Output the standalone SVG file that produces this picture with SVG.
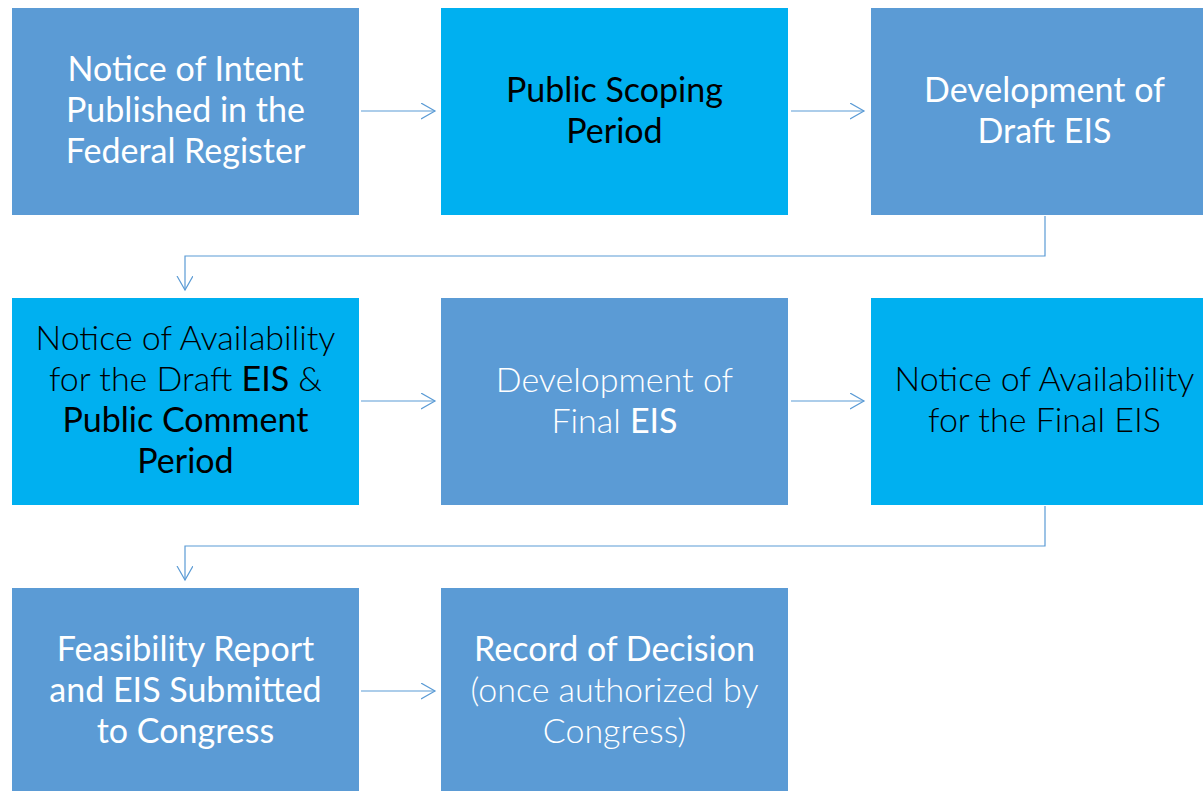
<svg xmlns="http://www.w3.org/2000/svg" width="1203" height="791" viewBox="0 0 1203 791">
<style>
.b1{fill:#5B9BD5}
.b2{fill:#00B0F0}
text{font-family:Lato,"Open Sans","Liberation Sans",sans-serif;font-size:34px;text-anchor:middle}
.w{fill:#FFFFFF}
.k{fill:#000000}
.l{font-weight:300}
.r{font-weight:400}
.c{fill:none;stroke:#5B9BD5;stroke-width:1.2}
</style>
<defs>
<marker id="ah" markerUnits="userSpaceOnUse" markerWidth="20" markerHeight="20" refX="14" refY="8" orient="auto">
<path d="M0,0 L14,8 L0,16" fill="none" stroke="#5B9BD5" stroke-width="1.2"/>
</marker>
</defs>
<rect width="1203" height="791" fill="#FFFFFF"/>
<g id="connectors">
<path class="c" d="M361,111 H435" marker-end="url(#ah)"/>
<path class="c" d="M791,111 H864" marker-end="url(#ah)"/>
<path class="c" d="M1045,216 V256 H185 V290" marker-end="url(#ah)"/>
<path class="c" d="M361,401 H435" marker-end="url(#ah)"/>
<path class="c" d="M791,401 H864" marker-end="url(#ah)"/>
<path class="c" d="M1045,506 V546 H185 V580" marker-end="url(#ah)"/>
<path class="c" d="M361,691 H435" marker-end="url(#ah)"/>
</g>
<g id="n1">
<rect class="b1" x="12" y="8" width="347" height="207"/>
<text class="w r" x="185.5" y="81">Notice of Intent</text>
<text class="w r" x="185.5" y="122">Published in the</text>
<text class="w r" x="185.5" y="163">Federal Register</text>
</g>
<g id="n2">
<rect class="b2" x="441" y="8" width="347" height="207"/>
<text class="k r" x="614.5" y="102">Public Scoping</text>
<text class="k r" x="614.5" y="143">Period</text>
</g>
<g id="n3">
<rect class="b1" x="871" y="8" width="347" height="207"/>
<text class="w r" x="1044.5" y="102">Development of</text>
<text class="w r" x="1044.5" y="143">Draft EIS</text>
</g>
<g id="n4">
<rect class="b2" x="12" y="298" width="347" height="207"/>
<text class="k l" x="185.5" y="350">Notice of Availability</text>
<text class="k l" x="185.5" y="391">for the Draft <tspan class="r">EIS</tspan> &amp;</text>
<text class="k r" x="185.5" y="432">Public Comment</text>
<text class="k r" x="185.5" y="473">Period</text>
</g>
<g id="n5">
<rect class="b1" x="441" y="298" width="347" height="207"/>
<text class="w l" x="614.5" y="392">Development of</text>
<text class="w l" x="614.5" y="433">Final <tspan class="r">EIS</tspan></text>
</g>
<g id="n6">
<rect class="b2" x="871" y="298" width="347" height="207"/>
<text class="k l" x="1044.5" y="391">Notice of Availability</text>
<text class="k l" x="1044.5" y="432">for the Final EIS</text>
</g>
<g id="n7">
<rect class="b1" x="12" y="588" width="347" height="207"/>
<text class="w r" x="185.5" y="661">Feasibility Report</text>
<text class="w r" x="185.5" y="702">and EIS Submitted</text>
<text class="w r" x="185.5" y="743">to Congress</text>
</g>
<g id="n8">
<rect class="b1" x="441" y="588" width="347" height="207"/>
<text class="w r" x="614.5" y="661">Record of Decision</text>
<text class="w l" x="614.5" y="702">(once authorized by</text>
<text class="w l" x="614.5" y="743">Congress)</text>
</g>
</svg>
